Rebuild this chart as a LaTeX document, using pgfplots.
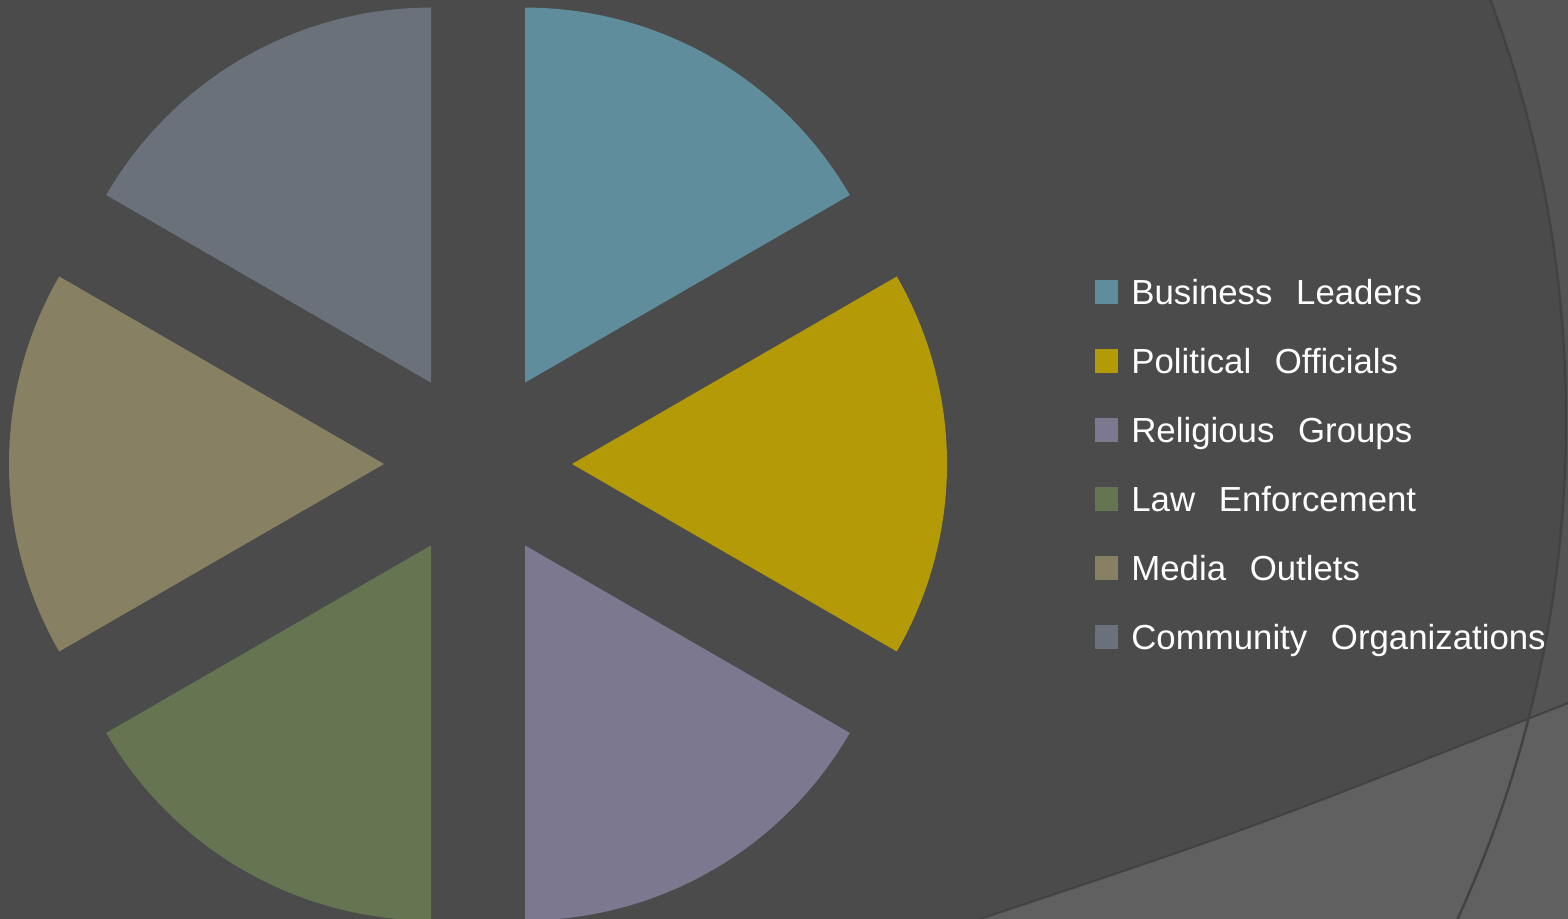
\documentclass[border=0pt]{standalone}
\usepackage{fontspec}
\setmainfont{Liberation Sans}
\usepackage{pgfplots}
\pgfplotsset{compat=1.18}

\definecolor{bg}{HTML}{4B4B4B}
\definecolor{band}{HTML}{606060}
\definecolor{arcline}{HTML}{424242}
\definecolor{cBus}{HTML}{5F8D9B}
\definecolor{cPol}{HTML}{B39A06}
\definecolor{cRel}{HTML}{7B788F}
\definecolor{cLaw}{HTML}{657552}
\definecolor{cMed}{HTML}{888062}
\definecolor{cCom}{HTML}{6B717B}

\begin{document}
\begin{tikzpicture}
\begin{axis}[
  width=784pt, height=459.5pt, scale only axis,
  xmin=0, xmax=1568, ymin=0, ymax=919,
  hide axis, clip=true,
  legend style={at={(axis description cs:0.6983,0.6965)}, anchor=north west,
    draw=none, fill=none, inner sep=0pt, row sep=18.5pt, column sep=6.5pt,
    font=\fontsize{17.4}{20}\selectfont, text=white,
    nodes={inner sep=0pt, text height=12.5pt, text depth=3.5pt},
    cells={anchor=west}},
  legend image code/.code={\fill[#1] (0pt,-4.4pt) rectangle (11.5pt,7.6pt);},
]
% background and decoration
\fill[bg] (rel axis cs:0,0) rectangle (rel axis cs:1,1);
\fill[white, opacity=0.05, even odd rule] (rel axis cs:0,0) rectangle (rel axis cs:1,1)
  (axis cs:367.5,499) circle[radius=599.25pt];
\fill[band] (axis cs:980,0) .. controls (axis cs:1250,90) .. (axis cs:1568,216)
  -- (axis cs:1568,0) -- cycle;
\draw[arcline, line width=1pt] (axis cs:980,0) .. controls (axis cs:1250,90) .. (axis cs:1568,216);
\draw[arcline, line width=1.2pt] (axis cs:367.5,499) circle[radius=599.25pt];

% six equal shares (1/6 each), 60 degrees per slice, exploded from the centre
\addplot[fill=cBus, draw=none] coordinates {(525,536.4)}
  -- ++(90:187.5pt) arc[start angle=90, end angle=30, radius=187.5pt] -- cycle;
\addlegendentry{Business\hspace{0.68em}Leaders}
\addplot[fill=cPol, draw=none] coordinates {(572,455)}
  -- ++(30:187.5pt) arc[start angle=30, end angle=-30, radius=187.5pt] -- cycle;
\addlegendentry{Political\hspace{0.68em}Officials}
\addplot[fill=cRel, draw=none] coordinates {(525,373.6)}
  -- ++(-30:187.5pt) arc[start angle=-30, end angle=-90, radius=187.5pt] -- cycle;
\addlegendentry{Religious\hspace{0.68em}Groups}
\addplot[fill=cLaw, draw=none] coordinates {(431,373.6)}
  -- ++(-90:187.5pt) arc[start angle=-90, end angle=-150, radius=187.5pt] -- cycle;
\addlegendentry{Law\hspace{0.68em}Enforcement}
\addplot[fill=cMed, draw=none] coordinates {(384,455)}
  -- ++(210:187.5pt) arc[start angle=210, end angle=150, radius=187.5pt] -- cycle;
\addlegendentry{Media\hspace{0.68em}Outlets}
\addplot[fill=cCom, draw=none] coordinates {(431,536.4)}
  -- ++(150:187.5pt) arc[start angle=150, end angle=90, radius=187.5pt] -- cycle;
\addlegendentry{Community\hspace{0.68em}Organizations}

\coordinate (bl) at (rel axis cs:0,0);
\coordinate (tr) at (rel axis cs:1,1);
\end{axis}
\pgfresetboundingbox
\path[use as bounding box] (bl) rectangle (tr);
\end{tikzpicture}
\end{document}
